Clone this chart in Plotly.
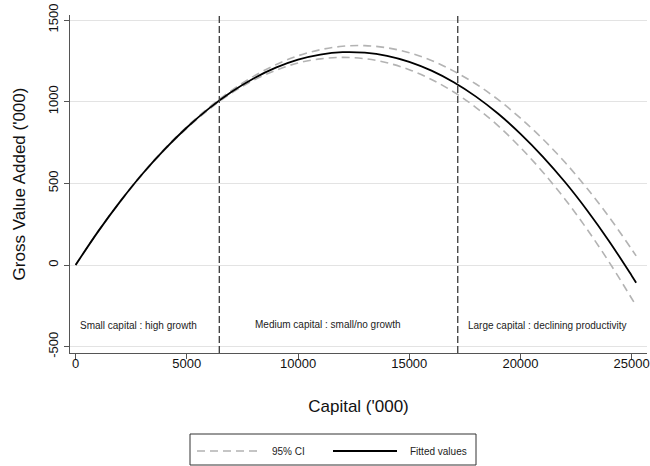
import plotly.graph_objects as go

# ---- data ----
capital = [0, 1000, 2000, 3000, 4000, 5000, 6000, 7000, 8000, 9000, 10000, 11000, 12000,
           13000, 14000, 15000, 16000, 17000, 18000, 19000, 20000, 21000, 22000, 23000,
           24000, 25000, 25200]
fitted = [0, 203, 388, 557, 708, 842, 959, 1059, 1142, 1208, 1257, 1288, 1303,
          1300, 1281, 1244, 1190, 1119, 1031, 926, 803, 664, 508, 334, 143, -65, -108]
ci_upper = [0, 204, 390, 560, 712, 847, 965, 1068, 1155, 1226, 1281, 1318, 1339,
            1343, 1330, 1300, 1252, 1187, 1108, 1012, 899, 772, 629, 468, 291, 96, 56]
ci_lower = [0, 202, 386, 554, 704, 837, 953, 1052, 1131, 1192, 1237, 1262, 1271,
            1263, 1238, 1196, 1136, 1059, 964, 852, 719, 570, 403, 218, 15, -205, -250]
thresholds = [6460, 17180]
region_labels = ["Small capital : high growth",
                 "Medium capital : small/no growth",
                 "Large capital : declining productivity"]
x_ticks = [0, 5000, 10000, 15000, 20000, 25000]
y_ticks = [-500, 0, 500, 1000, 1500]
legend_labels = ["95% CI", "Fitted values"]

# ---- layout geometry (pixels) ----
W, H = 650, 466
L, R, T, B = 70, 3, 15, 113
PW, PH = W - L - R, H - T - B


def px(xp):
    return (xp - L) / PW


def py(yp):
    return (H - B - yp) / PH


FONT = "Arial, Liberation Sans, Helvetica, sans-serif"
CI_COLOR = "#b3b3b3"

fig = go.Figure()
fig.add_trace(go.Scatter(x=capital, y=ci_upper, mode="lines", name=legend_labels[0],
                         line=dict(color=CI_COLOR, width=1.6, dash="8px,5px", shape="spline"),
                         showlegend=False, hoverinfo="skip"))
fig.add_trace(go.Scatter(x=capital, y=ci_lower, mode="lines", name=legend_labels[0],
                         line=dict(color=CI_COLOR, width=1.6, dash="8px,5px", shape="spline"),
                         showlegend=False, hoverinfo="skip"))
fig.add_trace(go.Scatter(x=capital, y=fitted, mode="lines", name=legend_labels[1],
                         line=dict(color="black", width=1.8, shape="spline"),
                         showlegend=False))

for xv in thresholds:
    fig.add_shape(type="line", xref="x", yref="paper", x0=xv, x1=xv, y0=0, y1=1,
                  line=dict(color="#3a3a3a", width=1.3, dash="7px,3px"), layer="above")

# region labels
label_y = -372
fig.add_annotation(x=121, y=label_y, xref="x", yref="y", text=region_labels[0],
                   showarrow=False, xanchor="left", yanchor="middle",
                   font=dict(family=FONT, size=10, color="#222"))
fig.add_annotation(x=11347, y=label_y + 5, xref="x", yref="y", text=region_labels[1],
                   showarrow=False, xanchor="center", yanchor="middle",
                   font=dict(family=FONT, size=10, color="#222"))
fig.add_annotation(x=17540, y=label_y, xref="x", yref="y", text=region_labels[2],
                   showarrow=False, xanchor="left", yanchor="middle",
                   font=dict(family=FONT, size=10, color="#222"))

# manual legend (Stata style)
fig.add_shape(type="rect", xref="paper", yref="paper",
              x0=px(190), x1=px(476), y0=py(465), y1=py(434),
              line=dict(color="#333", width=1), fillcolor="white")
ly = py(451)
fig.add_shape(type="line", xref="paper", yref="paper", x0=px(197), x1=px(262), y0=ly, y1=ly,
              line=dict(color=CI_COLOR, width=1.6, dash="8px,5px"))
fig.add_annotation(x=px(270), y=ly, xref="paper", yref="paper", text=legend_labels[0],
                   showarrow=False, xanchor="left", yanchor="middle",
                   font=dict(family=FONT, size=10, color="#222"))
fig.add_shape(type="line", xref="paper", yref="paper", x0=px(333), x1=px(397), y0=ly, y1=ly,
              line=dict(color="black", width=1.8))
fig.add_annotation(x=px(408), y=ly, xref="paper", yref="paper", text=legend_labels[1],
                   showarrow=False, xanchor="left", yanchor="middle",
                   font=dict(family=FONT, size=10, color="#222"))

fig.update_layout(
    width=W, height=H,
    margin=dict(l=L, r=R, t=T, b=B, autoexpand=False),
    paper_bgcolor="white", plot_bgcolor="white",
    font=dict(family=FONT, color="#111"),
    showlegend=False,
    xaxis=dict(range=[-252, 25688], tickvals=x_ticks, ticktext=[str(v) for v in x_ticks],
               showgrid=False, zeroline=False, showline=True, linecolor="#555", linewidth=1.3,
               ticks="outside", ticklen=5, tickwidth=1.3, tickcolor="#555",
               ticklabelstandoff=-7,
               tickfont=dict(family=FONT, size=13, color="#111"),
               title=dict(text="Capital ('000)", font=dict(family=FONT, size=17, color="#111"),
                          standoff=30),
               automargin=False),
    yaxis=dict(range=[-538.6, 1530.6], tickvals=y_ticks, ticktext=[str(v) for v in y_ticks],
               showgrid=True, gridcolor="#e3e3e3", gridwidth=1.3, zeroline=False,
               showline=True, linecolor="#555", linewidth=1.3,
               ticks="outside", ticklen=5, tickwidth=1.3, tickcolor="#555", tickangle=-90,
               ticklabelstandoff=1,
               tickfont=dict(family=FONT, size=13, color="#111"),
               title=dict(text="Gross Value Added ('000)", font=dict(family=FONT, size=17, color="#111"),
                          standoff=15),
               automargin=False),
)

fig.write_html("out.html", config={"displayModeBar": False},
               post_script="document.body.style.margin='0';document.body.style.overflow='hidden';")
